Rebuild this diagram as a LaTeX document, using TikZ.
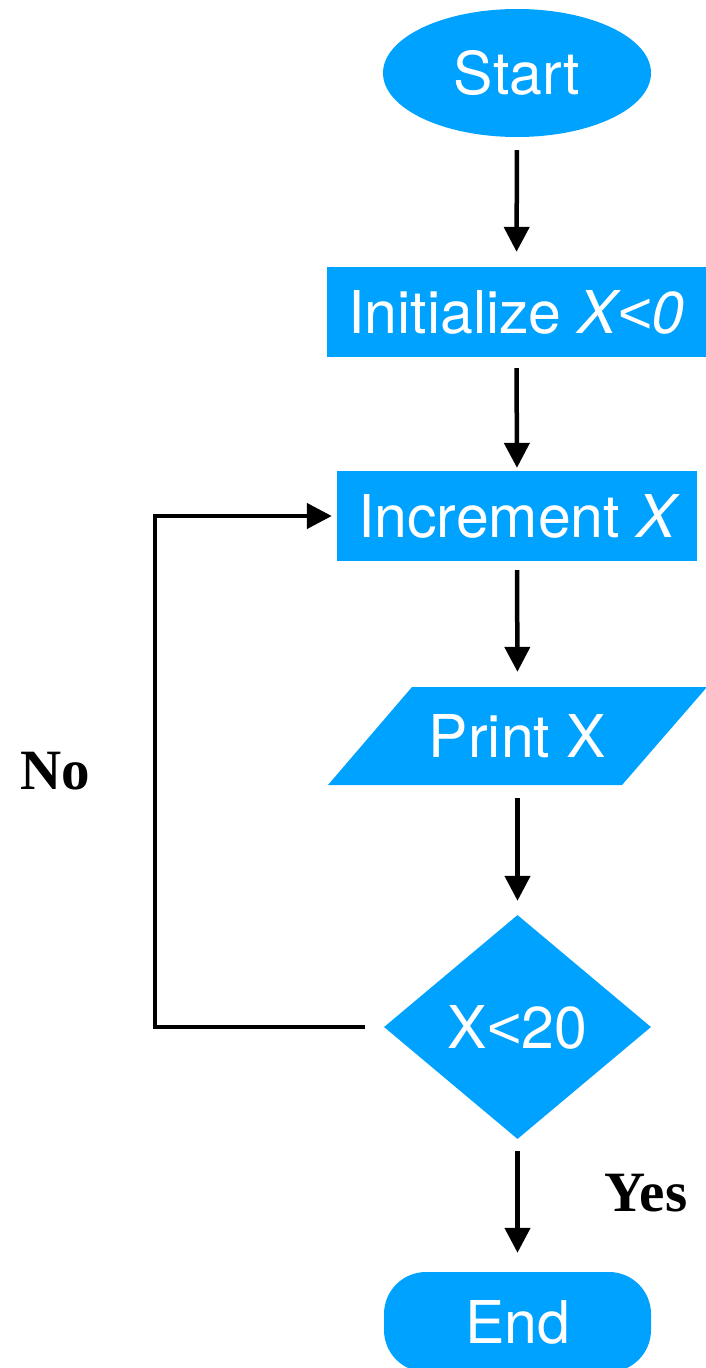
\documentclass[tikz,border=0pt]{standalone}
\usepackage{fontspec}
\setmainfont{TeX Gyre Heros}
\newfontfamily\labelfont{Liberation Serif}
\newfontfamily\relfont{Liberation Sans}
\newcommand{\lessthan}{{\relfont<}}
\usetikzlibrary{arrows.meta,shapes.geometric}
\definecolor{flowblue}{RGB}{0,162,255}

\begin{document}
\begin{tikzpicture}[x=1pt,y=-1pt,
  blocktext/.style={font=\fontsize{59}{70}\selectfont, text=white, inner sep=0pt},
  startshape/.style={blocktext, ellipse, fill=flowblue, minimum width=268pt, minimum height=128pt},
  procbox/.style={blocktext, rectangle, fill=flowblue, minimum height=90pt},
  iobox/.style={blocktext, rectangle, minimum width=379pt, minimum height=98pt},
  decisionbox/.style={blocktext, diamond, fill=flowblue, minimum width=267pt, minimum height=224pt},
  endshape/.style={blocktext, rectangle, rounded corners=42pt, fill=flowblue, minimum width=267pt, minimum height=100pt},
  flowarrow/.style={line width=4.5pt, -{Triangle[width=25pt,length=25pt]}, line join=miter},
  branchlabel/.style={font=\labelfont\bfseries\fontsize{57}{68}\selectfont, inner sep=0pt}
]
\useasboundingbox (0,0) rectangle (706,1368);
\clip (0,0) rectangle (706,1368);

% flow blocks
\node[startshape] (start) at (517,73) {Start};
\node[procbox, minimum width=379pt] (init) at (516.5,312) {Initialize \itshape X\lessthan0};
\node[procbox, minimum width=360pt] (inc) at (517,516) {Increment \itshape X};

% slanted input/output block
\fill[flowblue] (412,687) -- (707,687) -- (622,785) -- (328,785) -- cycle;
\node[iobox] (print) at (517.5,736) {Print X};

\node[decisionbox] (dec) at (517.5,1027) {X\lessthan20};
\node[endshape] (end) at (517.5,1322) {End};

% connectors
\draw[flowarrow, shorten <=13pt, shorten >=15pt] (start.south) -- (init.north);
\draw[flowarrow, shorten <=11pt, shorten >=3pt] (init.south) -- (inc.north);
\draw[flowarrow, shorten <=9pt, shorten >=15pt] (inc.south) -- (print.north);
\draw[flowarrow, shorten <=13pt, shorten >=14pt] (print.south) -- (dec.north);
\draw[flowarrow, shorten <=12pt, shorten >=19pt] (dec.south) -- (end.north);

% loop back when the test fails
\coordinate (loopside) at (155,770);
\draw[flowarrow, shorten <=19pt, shorten >=5pt] (dec.west) -| (loopside) |- (inc.west);

% branch labels
\node[branchlabel] (nolabel) at (55,771) {No};
\node[branchlabel] (yeslabel) at (646,1193) {Yes};
\end{tikzpicture}
\end{document}
